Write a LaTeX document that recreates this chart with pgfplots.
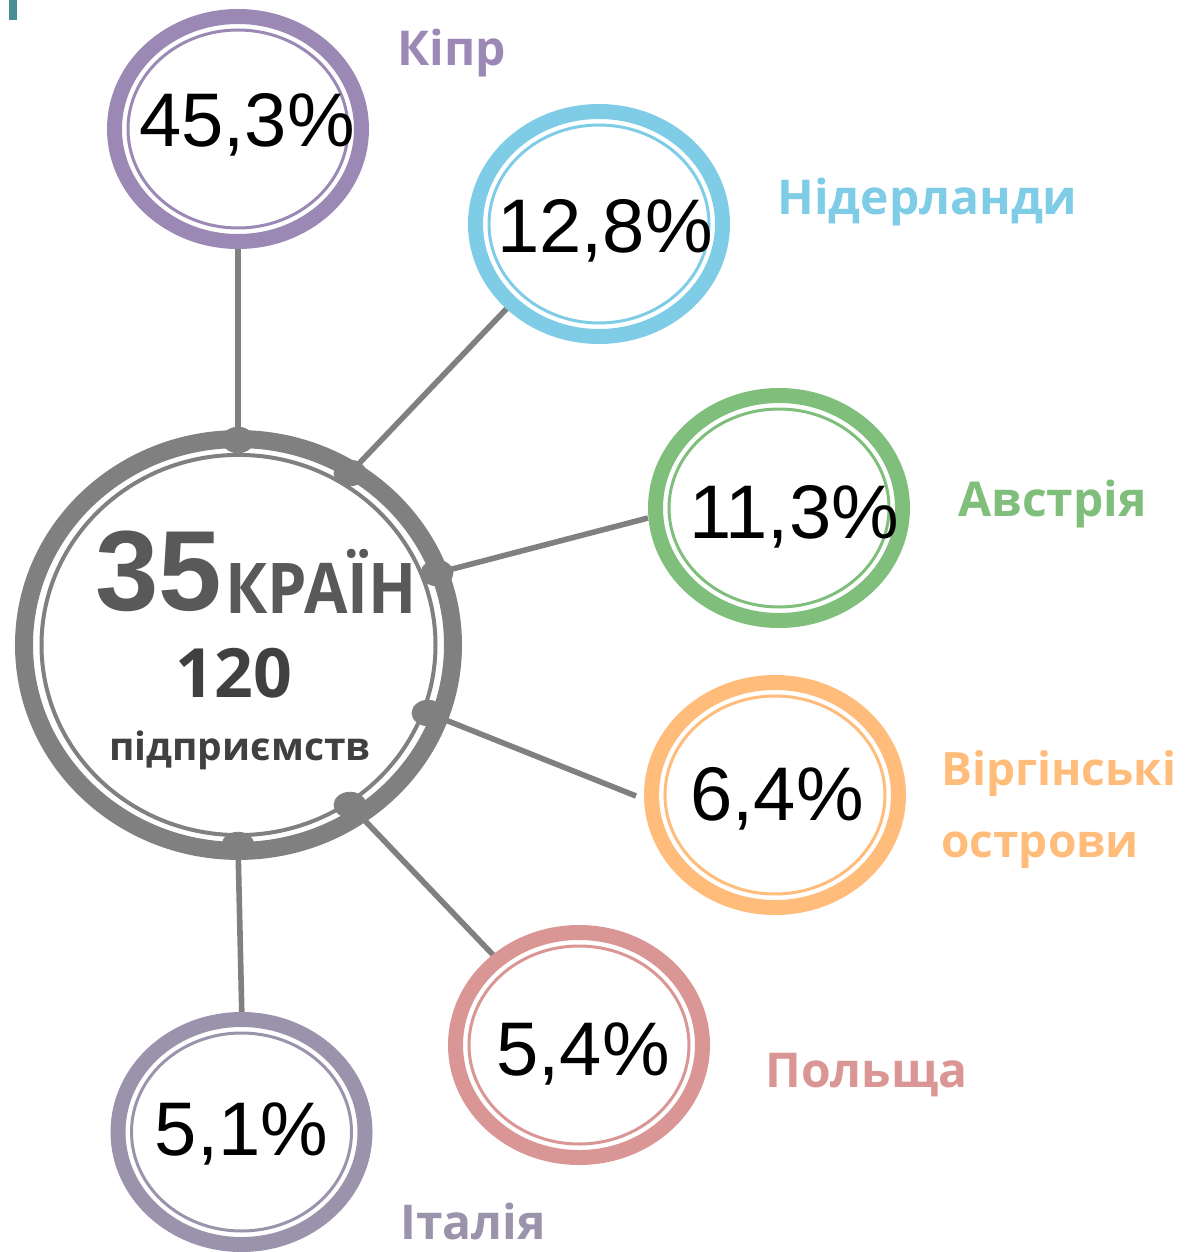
\documentclass[border=0pt]{standalone}
\usepackage{pgfplots}
\pgfplotsset{compat=1.18}
\usepackage{fontspec}
\setmainfont{Liberation Sans}
\newfontfamily\os{Open Sans}
\definecolor{kipr}{HTML}{9B88B5}
\definecolor{nid}{HTML}{7FCCE6}
\definecolor{avs}{HTML}{7FBF7B}
\definecolor{virg}{HTML}{FFBC7A}
\definecolor{pol}{HTML}{DA9694}
\definecolor{ital}{HTML}{9A93AB}
\definecolor{gr}{HTML}{808080}
\definecolor{dk}{HTML}{595959}
\definecolor{dk2}{HTML}{404040}
\definecolor{tl}{HTML}{4A8E95}
\DeclareRobustCommand\kraiin{\scalebox{0.9}[1]{КРАЇН}}
\pgfplotsset{
  ring/.style n args={4}{only marks, mark=o, color=#2, mark size=#1,
    mark options={draw=#2, fill=none, line width=#3, yscale=#4}},
  lbl/.style n args={3}{draw=none, nodes near coords, point meta=explicit symbolic,
    nodes near coords style={anchor=#1, inner sep=0pt, text=#2, font=#3}},
}
\begin{document}
\begin{tikzpicture}
\begin{axis}[width=592.5pt,height=626pt,scale only axis,hide axis,
  xmin=0,xmax=1185,ymin=0,ymax=1252,y dir=reverse,clip=false]
% teal mark
\addplot[tl, line width=4pt] coordinates {(13,0)(13,20)};
% connectors
\addplot[gr, line width=2.8pt] coordinates {(238,240)(238,440)};
\addplot[gr, line width=2.8pt] coordinates {(512,303)(350,473)};
\addplot[gr, line width=2.8pt] coordinates {(648,518)(437,573)};
\addplot[gr, line width=2.8pt] coordinates {(636,796)(428,713)};
\addplot[gr, line width=2.8pt] coordinates {(496,958)(350,805)};
\addplot[gr, line width=2.8pt] coordinates {(242,1022)(238,845)};
% central circle
\addplot[ring={107.25pt}{gr}{9pt}{0.96}] coordinates {(238.5,645)};
\addplot[ring={98.5pt}{gr}{2pt}{0.965}] coordinates {(238.5,645)};
% dots on central ring
\addplot[only marks, mark=*, color=gr, mark size=8pt, mark options={fill=gr, draw=gr, yscale=0.8}]
  coordinates {(238,440)(350,473)(437,573)(428,713)(350,805)(238,845)};
% small circles
\addplot[ring={61.75pt}{kipr}{7.5pt}{0.911}] coordinates {(238,129)};
\addplot[ring={55pt}{kipr}{1.5pt}{0.9}] coordinates {(238,129)};
\addplot[ring={61.75pt}{nid}{7.5pt}{0.911}] coordinates {(599,224)};
\addplot[ring={55pt}{nid}{1.5pt}{0.9}] coordinates {(599,224)};
\addplot[ring={61.75pt}{avs}{7.5pt}{0.911}] coordinates {(779,508)};
\addplot[ring={55pt}{avs}{1.5pt}{0.9}] coordinates {(779,508)};
\addplot[ring={61.75pt}{virg}{7.5pt}{0.911}] coordinates {(775,795)};
\addplot[ring={55pt}{virg}{1.5pt}{0.9}] coordinates {(775,795)};
\addplot[ring={61.75pt}{pol}{7.5pt}{0.911}] coordinates {(579,1045)};
\addplot[ring={55pt}{pol}{1.5pt}{0.9}] coordinates {(579,1045)};
\addplot[ring={61.75pt}{ital}{7.5pt}{0.911}] coordinates {(241.5,1132)};
\addplot[ring={55pt}{ital}{1.5pt}{0.9}] coordinates {(241.5,1132)};
% percentages
\addplot[lbl={base}{black}{\fontsize{38pt}{40pt}\selectfont}] coordinates {
  (247,147)[45,3\%] (605,252)[12,8\%] (794,538)[11,3\%] (777,820)[6,4\%] (583,1075)[5,4\%] (241.5,1155)[5,1\%]};
% country labels
\addplot[lbl={base west}{kipr}{\os\bfseries\fontsize{24pt}{28pt}\selectfont}] coordinates {(397,66)[Кіпр]};
\addplot[lbl={base west}{nid}{\os\bfseries\fontsize{24pt}{28pt}\selectfont}] coordinates {(777,214)[Нідерланди]};
\addplot[lbl={base west}{avs}{\os\bfseries\fontsize{24pt}{28pt}\selectfont}] coordinates {(958,516)[Австрія]};
\addplot[lbl={base west}{virg}{\os\bfseries\fontsize{23pt}{28pt}\selectfont}] coordinates {(941,785)[Віргінські] (941,857)[острови]};
\addplot[lbl={base west}{pol}{\os\bfseries\fontsize{24pt}{28pt}\selectfont}] coordinates {(765,1087)[Польща]};
\addplot[lbl={base west}{ital}{\os\bfseries\fontsize{24pt}{28pt}\selectfont}] coordinates {(400,1239)[Італія]};
% central texts
\addplot[lbl={base west}{dk}{\bfseries\fontsize{57pt}{60pt}\selectfont}] coordinates {(95,610)[35]};
\addplot[lbl={base west}{dk}{\os\bfseries\fontsize{35pt}{38pt}\selectfont}] coordinates {(225,613)[\kraiin]};
\addplot[lbl={base}{dk2}{\os\bfseries\fontsize{34pt}{38pt}\selectfont}] coordinates {(234,697)[120]};
\addplot[lbl={base}{dk2}{\os\bfseries\fontsize{19.5pt}{22pt}\selectfont}] coordinates {(240,760)[підприємств]};
\end{axis}
\pgfresetboundingbox
\path (current axis.south west) rectangle (current axis.north east);
\end{tikzpicture}
\end{document}
